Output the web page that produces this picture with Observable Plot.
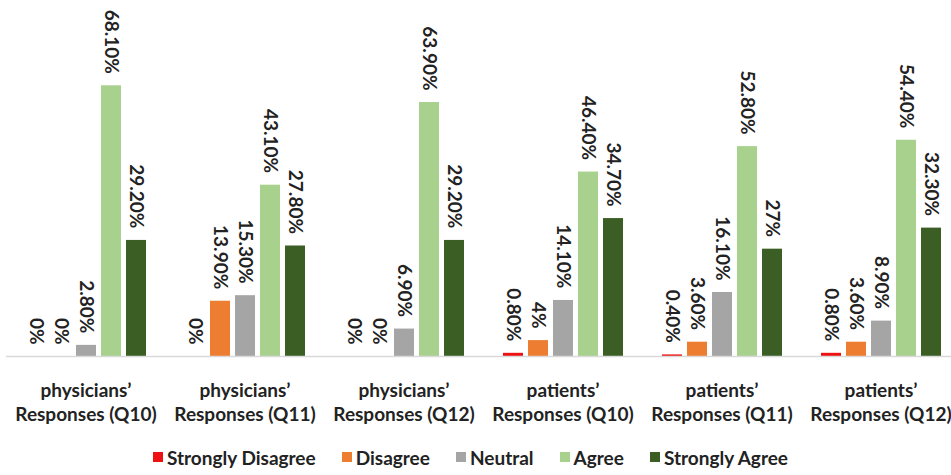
<!DOCTYPE html>
<html>
<head>
<meta charset="utf-8">
<script src="https://cdn.jsdelivr.net/npm/d3@7"></script>
<script src="https://cdn.jsdelivr.net/npm/@observablehq/plot@0.6"></script>
<style>
  body { margin: 0; background: #fff; font-family: Lato, "Open Sans", sans-serif; }
  #legend { display: flex; justify-content: center; align-items: center; height: 36px; font-weight: bold; font-size: 19px; color: #222; padding-right: 10px; }
  #legend .item { display: flex; align-items: center; margin: 0 13px; }
  #legend .sw { width: 10px; height: 10px; margin-right: 4px; }
</style>
</head>
<body>
<div id="chart"></div>
<div id="legend"></div>
<script>
const groups = [
  "physicians’\nResponses (Q10)",
  "physicians’\nResponses (Q11)",
  "physicians’\nResponses (Q12)",
  "patients’\nResponses (Q10)",
  "patients’\nResponses (Q11)",
  "patients’\nResponses (Q12)"
];
const categories = ["Strongly Disagree", "Disagree", "Neutral", "Agree", "Strongly Agree"];
const colors = ["#ee1111", "#ed7d31", "#a5a5a5", "#a9d18e", "#3b5e24"];

const physiciansQ10 = [0, 0, 2.8, 68.1, 29.2];
const physiciansQ11 = [0, 13.9, 15.3, 43.1, 27.8];
const physiciansQ12 = [0, 0, 6.9, 63.9, 29.2];
const patientsQ10 = [0.8, 4, 14.1, 46.4, 34.7];
const patientsQ11 = [0.4, 3.6, 16.1, 52.8, 27];
const patientsQ12 = [0.8, 3.6, 8.9, 54.4, 32.3];

const series = [physiciansQ10, physiciansQ11, physiciansQ12, patientsQ10, patientsQ11, patientsQ12];

const data = [];
groups.forEach((g, i) => {
  categories.forEach((c, j) => {
    data.push({group: g, category: c, value: series[i][j]});
  });
});
const fmt = v => Number.isInteger(v) ? `${v}%` : `${v.toFixed(2)}%`;

const chart = Plot.plot({
  width: 951,
  height: 439,
  marginTop: 38,
  marginBottom: 83,
  marginLeft: 6,
  marginRight: 0,
  style: {fontFamily: "Lato, 'Open Sans', sans-serif", background: "#fff"},
  fx: {domain: groups, range: [6, 960], padding: 0, axis: null},
  x: {domain: categories, paddingInner: 0.22, paddingOuter: 0.78, axis: null},
  y: {domain: [0, 80], axis: null},
  color: {domain: categories, range: colors},
  marks: [
    Plot.barY(data, {fx: "group", x: "category", y: "value", fill: "category"}),
    Plot.ruleY([0], {stroke: "#d9d9d9", strokeWidth: 1.5}),
    Plot.text(data, {
      fx: "group", x: "category", y: "value", text: d => fmt(d.value),
      rotate: 90, textAnchor: "end", lineAnchor: "middle", dy: -12,
      fontSize: 19, fontWeight: "bold", fill: "#222"
    }),
    Plot.text(groups, {
      fx: d => d, text: d => d, frameAnchor: "bottom", lineAnchor: "top",
      dy: 23, lineHeight: 1.28, fontSize: 19, fontWeight: "bold", fill: "#222"
    })
  ]
});
document.getElementById("chart").appendChild(chart);

const legend = document.getElementById("legend");
categories.forEach((c, i) => {
  const item = document.createElement("div");
  item.className = "item";
  const sw = document.createElement("div");
  sw.className = "sw";
  sw.style.background = colors[i];
  const label = document.createElement("span");
  label.textContent = c;
  item.appendChild(sw);
  item.appendChild(label);
  legend.appendChild(item);
});
</script>
</body>
</html>
